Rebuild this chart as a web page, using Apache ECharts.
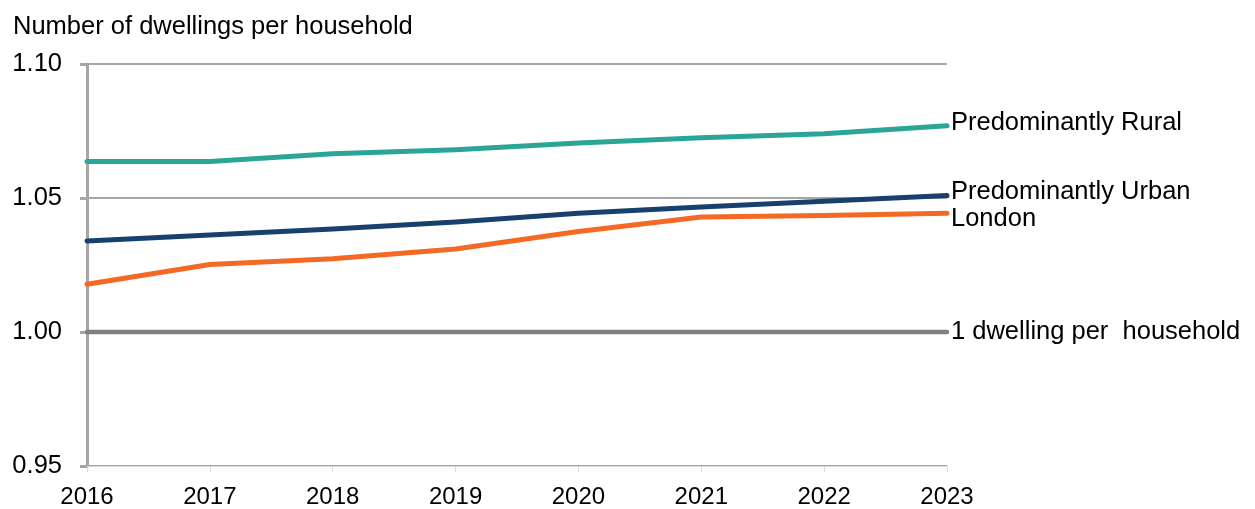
<!DOCTYPE html>
<html>
<head>
<meta charset="utf-8">
<script src="https://cdn.jsdelivr.net/npm/echarts@6/dist/echarts.min.js"></script>
<style>
  html, body { margin: 0; padding: 0; background: #fff; }
  #chart { width: 1255px; height: 509px; }
</style>
</head>
<body>
<div id="chart"></div>
<script>
// Dwellings per household by area type, 2016-2023
const years = ['2016', '2017', '2018', '2019', '2020', '2021', '2022', '2023'];
const rural = [1.0636, 1.0636, 1.0665, 1.0680, 1.0705, 1.0725, 1.0740, 1.0770];
const urban = [1.0340, 1.0362, 1.0384, 1.0410, 1.0443, 1.0466, 1.0488, 1.0509];
const london = [1.0178, 1.0252, 1.0273, 1.0310, 1.0375, 1.0429, 1.0435, 1.0443];
const parity = [1, 1, 1, 1, 1, 1, 1, 1];
const yTicks = { min: 0.95, max: 1.10, step: 0.05 };

const FONT = '"Liberation Sans", Arial, sans-serif';
const chart = echarts.init(document.getElementById('chart'), null, { renderer: 'canvas' });

function lineSeries(name, data, color, width, offset, z) {
  return {
    name: name,
    type: 'line',
    data: data,
    symbol: 'none',
    z: z,
    lineStyle: { color: color, width: width, cap: 'round', join: 'round' },
    endLabel: {
      show: true,
      formatter: name,
      color: '#000',
      fontFamily: FONT,
      fontSize: 25.5,
      distance: 4,
      offset: offset
    },
    emphasis: { disabled: true }
  };
}

chart.setOption({
  animation: false,
  backgroundColor: '#fff',
  textStyle: { fontFamily: FONT },
  title: {
    text: 'Number of dwellings per household',
    left: 8,
    top: 9,
    textStyle: { fontFamily: FONT, fontSize: 25.5, fontWeight: 'normal', color: '#000' }
  },
  grid: { left: 87, right: 308, top: 64, bottom: 41, containLabel: false },
  xAxis: {
    type: 'category',
    data: years,
    boundaryGap: false,
    axisLine: { show: true, lineStyle: { color: '#d9d9d9', width: 1 } },
    axisTick: { show: true, alignWithLabel: true, length: 6, lineStyle: { color: '#d9d9d9' } },
    axisLabel: { color: '#000', fontSize: 24, fontFamily: FONT, margin: 19 },
    splitLine: { show: false }
  },
  yAxis: {
    type: 'value',
    min: yTicks.min,
    max: yTicks.max,
    interval: yTicks.step,
    axisLine: { show: true, lineStyle: { color: '#a6a6a6', width: 3 } },
    axisTick: { show: true, length: 7, lineStyle: { color: '#a6a6a6', width: 3 } },
    axisLabel: {
      color: '#000', fontSize: 25.5, fontFamily: FONT, margin: 25,
      formatter: v => v.toFixed(2)
    },
    splitLine: { show: true, lineStyle: { color: '#a6a6a6', width: 2 } }
  },
  series: [
    lineSeries('1 dwelling per  household', parity, '#808080', 4.5, [0, 0], 2),
    lineSeries('Predominantly Rural', rural, '#2ba597', 5, [0, -3], 3),
    lineSeries('Predominantly Urban', urban, '#17406d', 5, [0, -4], 4),
    lineSeries('London', london, '#f46a25', 5, [0, 6], 3)
  ]
});
</script>
</body>
</html>
